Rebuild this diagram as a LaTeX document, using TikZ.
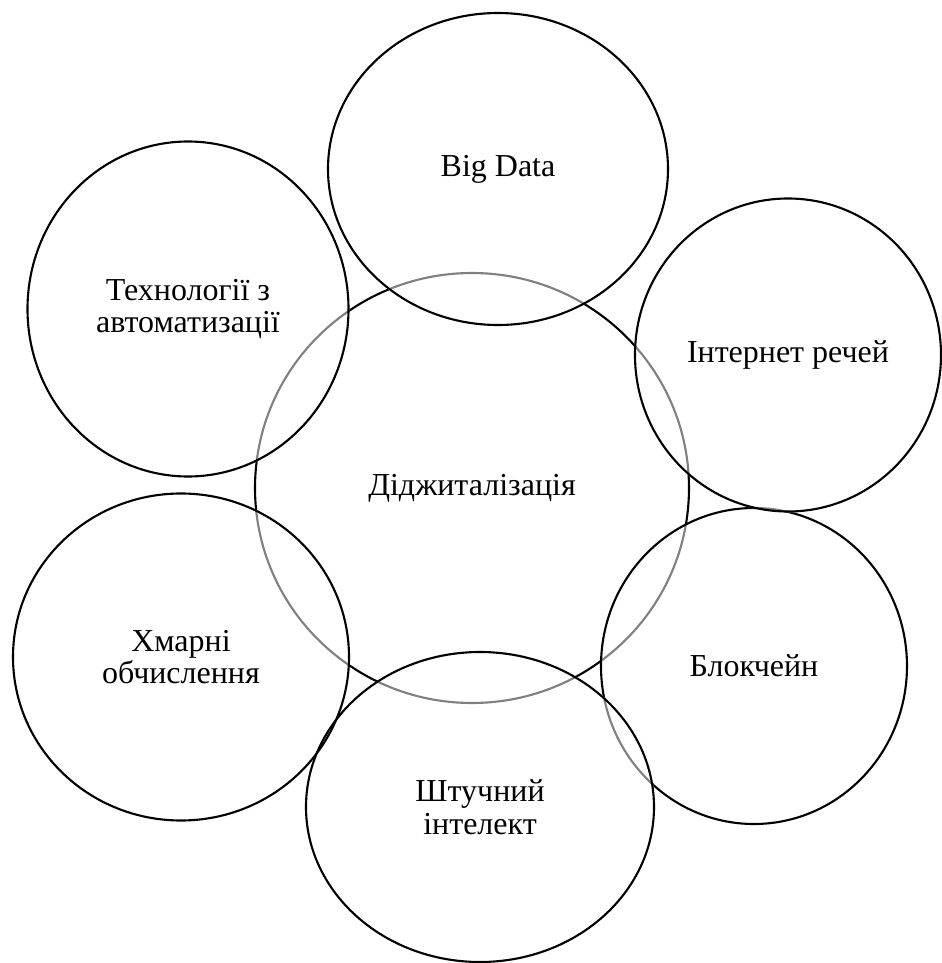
\documentclass[tikz,border=0pt]{standalone}
\usepackage{fontspec}
\setmainfont{Liberation Serif}
\usetikzlibrary{shapes.geometric,calc}
\pgfdeclarelayer{back}
\pgfsetlayers{back,main}
\begin{document}
\begin{tikzpicture}[
    font=\fontsize{9.1}{9.3}\selectfont,
    ring/.style={ellipse, draw, line width=0.6pt, inner sep=0pt, align=center},
    veil/.style={fill=white, fill opacity=0.5, text opacity=1}
  ]
  \useasboundingbox (0,0) rectangle (9.42,9.63);

  % Центральне коло та блокчейн (нижній шар)
  \begin{pgfonlayer}{back}
    \node[ring, minimum width=4.34cm, minimum height=4.30cm] (dig) at (4.72,4.75) {Діджиталізація};
    \node[ring, veil, minimum width=3.06cm, minimum height=3.16cm] (block) at (7.54,2.97) {Блокчейн};
  \end{pgfonlayer}

  % Кола технологій
  \node[ring, minimum width=3.40cm, minimum height=3.12cm] (bigdata) at (4.98,7.94) {Big Data};
  \node[ring, minimum width=3.21cm, minimum height=3.35cm] (auto) at (1.88,6.54) {Технології з\\автоматизації};
  \node[ring, minimum width=3.06cm, minimum height=3.13cm] (iot) at (7.88,6.08) {Інтернет речей};
  \node[ring, minimum width=3.36cm, minimum height=3.27cm] (cloud) at (1.81,3.06) {Хмарні\\обчислення};
  \node[ring, minimum width=3.48cm, minimum height=3.10cm] (ai) at (4.80,1.56) {Штучний\\інтелект};

  % Напівпрозора заливка над центральним колом
  \begin{pgfonlayer}{back}
    \foreach \c in {bigdata,auto,iot,cloud,ai}
      \fill[veil] let \p1=($(\c.east)-(\c.center)$), \p2=($(\c.north)-(\c.center)$)
        in (\c.center) ellipse [x radius=\x1, y radius=\y2];
  \end{pgfonlayer}
\end{tikzpicture}
\end{document}
